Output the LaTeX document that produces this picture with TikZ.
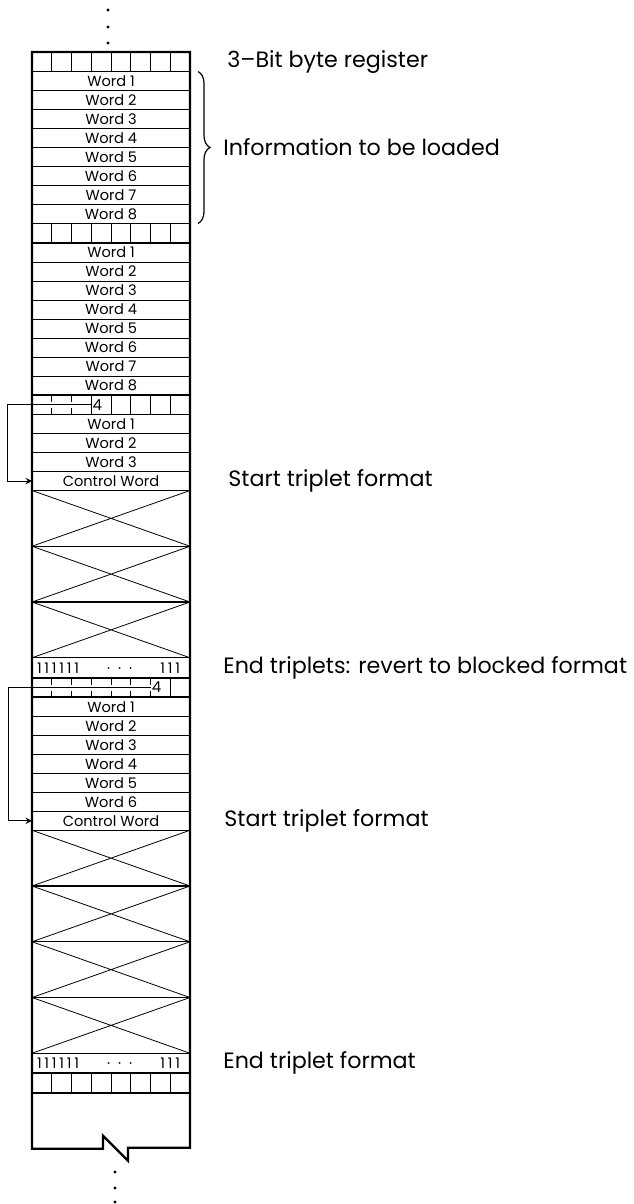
\documentclass[tikz,border=0pt]{standalone}
\usepackage{fontspec}
\setmainfont{Poppins}
\usepackage{tikz}
\usetikzlibrary{arrows, positioning, calc, decorations.pathreplacing}
\newcommand{\one}{1\hspace{1.4pt}}
\newcommand{\onesline}{\makebox[79pt]{\hspace{2.5pt}\one\one\one\one\one 1\hfill·\hspace{4pt}·\hspace{4pt}·\hfill\one\one 1\hspace{5pt}}}

\begin{document}
\begin{tikzpicture}[
    x=0.5pt, y=-0.5pt,
    cell/.style={rectangle, draw, minimum width=79pt, inner sep=0pt, outer sep=0pt},
    bytereg/.style={cell, line width=0.8pt, minimum height=9.75pt},
    wordrow/.style={cell, line width=0.45pt, minimum height=9.5pt, font=\fontsize{7.3}{8}\selectfont},
    crossbox/.style={cell, line width=0.7pt, minimum height=27.875pt},
    onesrow/.style={cell, line width=0.7pt, minimum height=10pt, font=\fontsize{7.3}{8}\selectfont},
    endbox/.style={cell, draw=none, minimum height=28pt},
    bitcount/.style={inner sep=0.5pt, anchor=west, font=\fontsize{7.5}{8}\selectfont},
    note/.style={inner sep=0pt, anchor=west, font=\fontsize{11.1}{13}\selectfont},
    colframe/.style={line width=1.2pt, line join=miter},
    arrow/.style={->, >=stealth, line width=0.45pt}
]
\useasboundingbox (0,0) rectangle (633,1204);

% dots above
\foreach \y in {10,27,43} \fill (108,\y) circle (0.8pt);

% first block
\node[bytereg, anchor=north west, alias=a0] (r1) at (32,52) {};
\foreach \i [remember=\i as \p (initially 0)] in {1,...,8}
  \node[wordrow, below=0pt of a\p] (a\i) {Word \i};

% second block
\node[bytereg, below=0pt of a8, alias=b0] (r2) {};
\foreach \i [remember=\i as \p (initially 0)] in {1,...,8}
  \node[wordrow, below=0pt of b\p] (b\i) {Word \i};

% third block, triplets
\node[bytereg, below=0pt of b8, alias=c0] (r3) {};
\foreach \i [remember=\i as \p (initially 0)] in {1,2,3}
  \node[wordrow, below=0pt of c\p] (c\i) {Word \i};
\node[wordrow, below=0pt of c3] (c4) {Control Word};
\foreach \i [remember=\i as \p (initially 4)] in {5,6,7}
  \node[crossbox, below=0pt of c\p] (c\i) {};
\node[onesrow, below=0pt of c7] (e1) {\onesline};

% fourth block, triplets
\node[bytereg, below=0pt of e1, alias=d0] (r4) {};
\foreach \i [remember=\i as \p (initially 0)] in {1,...,6}
  \node[wordrow, below=0pt of d\p] (d\i) {Word \i};
\node[wordrow, below=0pt of d6] (d7) {Control Word};
\foreach \i [remember=\i as \p (initially 7)] in {8,...,11}
  \node[crossbox, below=0pt of d\p] (d\i) {};
\node[onesrow, below=0pt of d11] (e2) {\onesline};

% last register and broken end
\node[bytereg, below=0pt of e2] (r5) {};
\node[endbox, below=0pt of r5] (z) {};

% crosses
\foreach \x in {c5,c6,c7,d8,d9,d10,d11}
  \draw[line width=0.4pt] (\x.north west) -- (\x.south east) (\x.north east) -- (\x.south west);

% register cells
\foreach \r in {1,...,5}
  \foreach \k in {1,...,7}
    \draw[line width=0.5pt] ($(r\r.north west)!{\k/8}!(r\r.north east)$) -- ($(r\r.south west)!{\k/8}!(r\r.south east)$);

% counts and links
\node[bitcount] (f1) at ($(r3.west)!{3/8}!(r3.east)$) {4};
\node[bitcount] (f2) at ($(r4.west)!{6/8}!(r4.east)$) {4};
\draw[white, line width=3pt] ([xshift=0.8pt]r3.west) -- (f1.west);
\draw[white, line width=3pt] ([xshift=0.8pt]r4.west) -- (f2.west);
\draw[arrow] (f1.west) -| ([xshift=-12.5pt]c4.west) -- (c4.west);
\draw[arrow] (f2.west) -| ([xshift=-12pt]d7.west) -- (d7.west);

% outer frame
\draw[colframe] (r1.north west) -- (z.south west) -- ++(71,0) -- ++(0,-13) -- ++(25,25) -- ++(0,-13) -| (r1.north east) -- cycle;

% dots below
\foreach \y in {1172,1188,1202} \fill (115,\y) circle (0.8pt);

% labels
\draw[decorate, decoration={brace, amplitude=6pt}, line width=0.6pt] ([xshift=4pt]a1.north east) -- ([xshift=4pt]a8.south east);
\node[note, right=18.5pt of r1] (l1) {3–Bit byte register};
\node[note, right=16.5pt of a4.south east] (l2) {Information to be loaded};
\node[note, right=19pt of c4] (l3) {Start triplet format};
\node[note, right=16.5pt of e1] (l4) {End triplets: revert to blocked format};
\node[note, right=17pt of d7] (l5) {Start triplet format};
\node[note, right=16.5pt of e2] (l6) {End triplet format};

\end{tikzpicture}
\end{document}
